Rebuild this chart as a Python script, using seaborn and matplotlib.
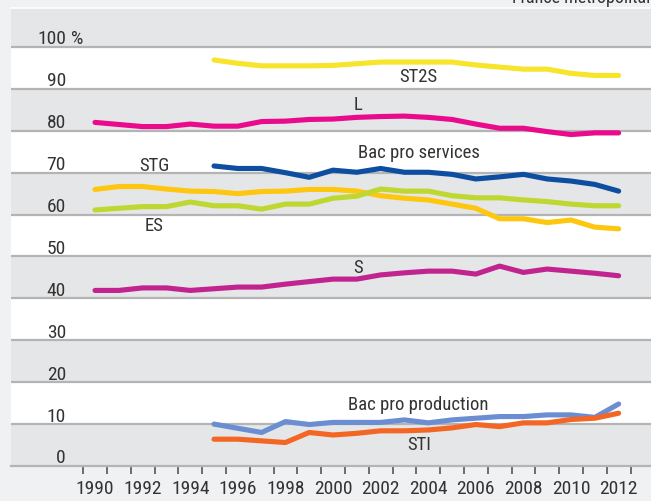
import matplotlib
matplotlib.use("Agg")
import matplotlib.pyplot as plt
import seaborn as sns
import pandas as pd
import numpy as np

# Data (% of girls among bac graduates, by series)
years_long = list(range(1990, 2013))
years_short = list(range(1995, 2013))

st2s = [96.9, 96.1, 95.5, 95.5, 95.5, 95.6, 96.0, 96.4, 96.4, 96.4, 96.4, 95.7,
        95.2, 94.7, 94.7, 93.7, 93.2, 93.2]
lit = [82.0, 81.5, 81.0, 81.0, 81.6, 81.1, 81.1, 82.2, 82.3, 82.7, 82.8, 83.2,
       83.4, 83.5, 83.2, 82.7, 81.6, 80.6, 80.6, 79.8, 79.1, 79.5, 79.5]
stg = [66.0, 66.7, 66.7, 66.1, 65.6, 65.5, 65.0, 65.5, 65.6, 66.0, 66.0, 65.6,
       64.5, 63.9, 63.5, 62.5, 61.5, 59.0, 59.0, 58.1, 58.7, 57.0, 56.6]
es = [61.1, 61.5, 61.9, 61.9, 63.0, 62.1, 62.1, 61.3, 62.5, 62.5, 63.9, 64.4,
      66.1, 65.6, 65.6, 64.5, 64.0, 64.0, 63.5, 63.1, 62.5, 62.1, 62.1]
bac_pro_services = [71.6, 71.0, 71.0, 70.0, 68.9, 70.6, 70.1, 71.0, 70.1, 70.1,
                    69.6, 68.5, 69.0, 69.6, 68.5, 68.0, 67.2, 65.6]
sci = [41.9, 41.9, 42.5, 42.5, 41.9, 42.3, 42.7, 42.7, 43.4, 44.0, 44.6, 44.6,
       45.6, 46.1, 46.5, 46.5, 45.8, 47.7, 46.2, 47.0, 46.5, 46.0, 45.4]
bac_pro_production = [10.0, 9.0, 8.0, 10.6, 9.9, 10.4, 10.4, 10.4, 11.0, 10.3,
                      11.0, 11.4, 11.8, 11.8, 12.2, 12.2, 11.6, 14.8]
sti = [6.4, 6.4, 6.0, 5.6, 8.0, 7.4, 7.8, 8.4, 8.4, 8.6, 9.1, 9.9, 9.4, 10.3,
       10.3, 11.1, 11.4, 12.6]

series = {
    "ST2S": (years_short, st2s, "#f6e52b"),
    "L": (years_long, lit, "#ea0a8c"),
    "STG": (years_long, stg, "#fec70f"),
    "ES": (years_long, es, "#bed731"),
    "Bac pro services": (years_short, bac_pro_services, "#0d4ea1"),
    "S": (years_long, sci, "#c1248e"),
    "Bac pro production": (years_short, bac_pro_production, "#6b8ed2"),
    "STI": (years_short, sti, "#f36624"),
}

# series name, label year, label value
labels = [
    ("ST2S", 2003.6, 92.8),
    ("L", 2001.05, 86.2),
    ("STG", 1992.5, 71.7),
    ("ES", 1992.5, 57.3),
    ("Bac pro services", 2003.6, 74.7),
    ("S", 2001.05, 47.2),
    ("Bac pro production", 2003.6, 14.6),
    ("STI", 2003.6, 5.0),
]

y_ticks = [0, 10, 20, 30, 40, 50, 60, 70, 80, 90, 100]
x_labels = list(range(1990, 2013, 2))

rows = []
for name, (yrs, vals, _) in series.items():
    for yr, v in zip(yrs, vals):
        rows.append({"year": yr, "value": v, "serie": name})
df = pd.DataFrame(rows)
palette = {name: c for name, (_, _, c) in series.items()}

sns.set_theme(style="white")
plt.rcParams["font.family"] = ["Liberation Sans Narrow", "Roboto Condensed",
                               "DejaVu Sans Condensed", "Liberation Sans", "DejaVu Sans"]

fig = plt.figure(figsize=(6.51, 5.01), dpi=100)
fig.patch.set_facecolor("#eff1f3")
ax = fig.add_axes([11 / 651, 35 / 501, 640 / 651, 458 / 501])
ax.set_facecolor("white")
ax.set_xlim(1986.47, 2013.36)
ax.set_ylim(0, 109.3)

# alternating grey bands and grid lines
band = "#e5e6e8"
for lo in [0, 20, 40, 60, 80, 100]:
    ax.axhspan(lo, lo + 10 if lo < 100 else 110, color=band, lw=0, zorder=0)
for v in y_ticks[1:]:
    ax.axhline(v, color="#b4b4b4", lw=1.6, zorder=1)

sns.lineplot(data=df, x="year", y="value", hue="serie", palette=palette,
             linewidth=3.7, legend=False, ax=ax, zorder=3)

txt = "#333333"
for v in y_ticks:
    ax.text(1988.78, v + 0.6, str(v), ha="right", va="baseline",
            fontsize=14, color=txt, zorder=4)
ax.text(1988.98, 100.6, "%", ha="left", va="baseline", fontsize=14, color=txt)

for name, x, y in labels:
    ax.text(x, y, name, ha="center", va="center", fontsize=13.5, color=txt, zorder=4)

# x axis: ticks between years, labels on even years
ax.set_xticks(np.arange(1989.5, 2013, 1))
ax.set_xticklabels([])
ax.set_xticks(x_labels, minor=True)
ax.set_xticklabels([str(y) for y in x_labels], minor=True)
ax.tick_params(axis="x", which="major", length=6, width=1.2, color="#555555",
               direction="out", bottom=True)
ax.tick_params(axis="x", which="minor", length=0, pad=10, labelsize=14,
               labelcolor=txt)
ax.set_yticks([])
ax.set_xlabel("")
ax.set_ylabel("")

for s in ["left", "right"]:
    ax.spines[s].set_visible(False)
ax.spines["top"].set_color("white")
ax.spines["top"].set_linewidth(1.2)
ax.spines["bottom"].set_color("#b4b4b4")
ax.spines["bottom"].set_linewidth(1.6)

# source note, cropped at the top edge as in the reference
fig.text(512 / 651, 1 - 3 / 501, "France métropolitaine", ha="left",
         va="baseline", fontsize=13, color=txt)

fig.savefig("out.png", dpi=100, facecolor=fig.get_facecolor())
